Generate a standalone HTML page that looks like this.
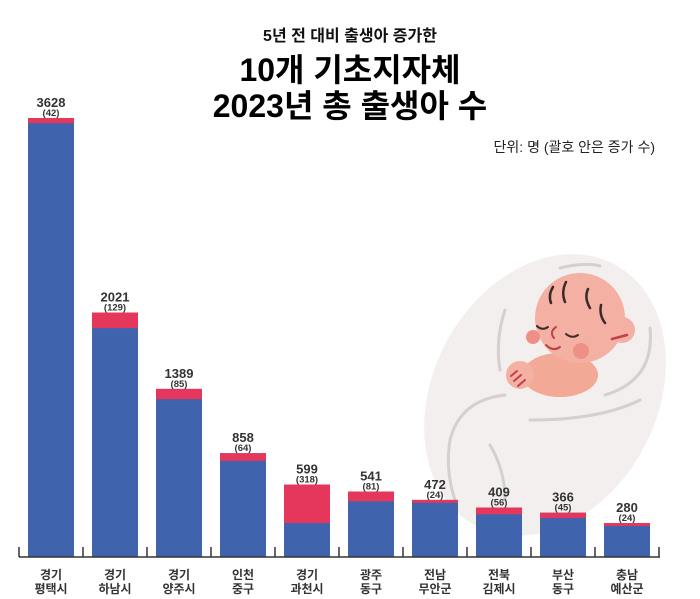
<!DOCTYPE html>
<html><head><meta charset="utf-8"><style>
body{margin:0;background:#fff}
svg{display:block;font-family:"Liberation Sans","Noto Sans CJK KR",sans-serif}
.v{font-size:13px;font-weight:bold;fill:#333;text-anchor:middle}
.p{font-size:9.5px;font-weight:bold;fill:#333;text-anchor:middle}
.c{font-size:12px;font-weight:bold;fill:#333;text-anchor:middle}
</style></head><body>
<svg width="700" height="599" viewBox="0 0 700 599">
<rect width="700" height="599" fill="#fff"/>
<text x="350" y="41" text-anchor="middle" font-size="16" font-weight="bold" fill="#111">5년 전 대비 출생아 증가한</text>
<text x="350" y="81" text-anchor="middle" font-size="32" font-weight="bold" fill="#000">10개 기초지자체</text>
<text x="350" y="117" text-anchor="middle" font-size="32" font-weight="bold" fill="#000">2023년 총 출생아 수</text>
<text x="655" y="152" text-anchor="end" font-size="14" fill="#222">단위: 명 (괄호 안은 증가 수)</text>
<g>
<ellipse cx="545" cy="395" rx="112" ry="148" transform="rotate(28 545 395)" fill="#f3efee"/>
<path d="M505 310 Q495 340 500 370" stroke="#d5d0ce" stroke-width="3" fill="none" stroke-linecap="round"/>
<path d="M560 268 Q585 262 600 266" stroke="#d5d0ce" stroke-width="3" fill="none" stroke-linecap="round"/>
<path d="M650 328 Q655 380 605 395" stroke="#d5d0ce" stroke-width="3" fill="none" stroke-linecap="round"/>
<path d="M640 400 Q600 420 530 420" stroke="#d5d0ce" stroke-width="3" fill="none" stroke-linecap="round"/>
<path d="M505 395 Q460 400 450 440 Q445 470 455 500" stroke="#d5d0ce" stroke-width="3" fill="none" stroke-linecap="round"/>
<path d="M490 445 Q505 470 505 500" stroke="#d5d0ce" stroke-width="3" fill="none" stroke-linecap="round"/>
<ellipse cx="560" cy="375" rx="38" ry="22" fill="#f2a996"/>
<circle cx="580" cy="318" r="45" fill="#f4b0a2"/>
<circle cx="622" cy="330" r="13" fill="#f4b0a2"/>
<circle cx="533" cy="337" r="7" fill="#ee9088"/>
<circle cx="581" cy="351" r="8" fill="#ee9088"/>
<path d="M553 287 Q548 295 551 303 M566 282 Q561 292 565 302 M588 289 Q584 298 590 308 M601 305 Q599 315 605 323" stroke="#3a2a28" stroke-width="2.5" fill="none" stroke-linecap="round"/>
<path d="M537 326 Q542 331 548 327 M566 334 Q572 339 578 335" stroke="#3a2a28" stroke-width="2" fill="none" stroke-linecap="round"/>
<path d="M556 327 Q549 332 554 338 M546 345 Q553 352 560 347" stroke="#c0404a" stroke-width="2" fill="none" stroke-linecap="round"/>
<path d="M612 339 L627 335" stroke="#c0404a" stroke-width="2.5" stroke-linecap="round"/>
<circle cx="520" cy="375" r="14" fill="#f4b0a2"/>
<path d="M511 376 L517 371 M514 381 L521 375 M518 386 L525 380" stroke="#c0404a" stroke-width="2" stroke-linecap="round"/>
</g>
<g fill="#3f63ad">
<rect x="28" y="118" width="46" height="439"/>
<rect x="92" y="312.5" width="46" height="244.5"/>
<rect x="156" y="388.9" width="46" height="168.1"/>
<rect x="220" y="453.2" width="46" height="103.8"/>
<rect x="284" y="484.5" width="46" height="72.5"/>
<rect x="348" y="491.5" width="46" height="65.5"/>
<rect x="412" y="499.9" width="46" height="57.1"/>
<rect x="476" y="507.5" width="46" height="49.5"/>
<rect x="540" y="512.7" width="46" height="44.3"/>
<rect x="604" y="523.1" width="46" height="33.9"/>
</g>
<g fill="#e5365c">
<rect x="28" y="118" width="46" height="5.1"/>
<rect x="92" y="312.5" width="46" height="15.6"/>
<rect x="156" y="388.9" width="46" height="10.3"/>
<rect x="220" y="453.2" width="46" height="7.7"/>
<rect x="284" y="484.5" width="46" height="38.5"/>
<rect x="348" y="491.5" width="46" height="9.8"/>
<rect x="412" y="499.9" width="46" height="2.9"/>
<rect x="476" y="507.5" width="46" height="6.8"/>
<rect x="540" y="512.7" width="46" height="5.4"/>
<rect x="604" y="523.1" width="46" height="2.9"/>
</g>
<text class="v" x="51" y="107">3628</text><text class="p" x="51" y="116">(42)</text>
<text class="v" x="115" y="301.5">2021</text><text class="p" x="115" y="310.5">(129)</text>
<text class="v" x="179" y="378">1389</text><text class="p" x="179" y="387">(85)</text>
<text class="v" x="243" y="442">858</text><text class="p" x="243" y="451">(64)</text>
<text class="v" x="307" y="473.5">599</text><text class="p" x="307" y="482.5">(318)</text>
<text class="v" x="371" y="480.5">541</text><text class="p" x="371" y="489.5">(81)</text>
<text class="v" x="435" y="489">472</text><text class="p" x="435" y="498">(24)</text>
<text class="v" x="499" y="496.5">409</text><text class="p" x="499" y="505.5">(56)</text>
<text class="v" x="563" y="501.5">366</text><text class="p" x="563" y="510.5">(45)</text>
<text class="v" x="627" y="512">280</text><text class="p" x="627" y="521">(24)</text>
<line x1="19" y1="557" x2="660" y2="557" stroke="#333" stroke-width="1.5"/>
<g stroke="#333" stroke-width="1.5">
<line x1="19" y1="547" x2="19" y2="557"/><line x1="83" y1="547" x2="83" y2="557"/><line x1="147" y1="547" x2="147" y2="557"/><line x1="211" y1="547" x2="211" y2="557"/><line x1="275" y1="547" x2="275" y2="557"/><line x1="339" y1="547" x2="339" y2="557"/><line x1="403" y1="547" x2="403" y2="557"/><line x1="467" y1="547" x2="467" y2="557"/><line x1="531" y1="547" x2="531" y2="557"/><line x1="595" y1="547" x2="595" y2="557"/><line x1="659" y1="547" x2="659" y2="557"/>
</g>
<text class="c" x="51" y="579">경기</text><text class="c" x="51" y="593">평택시</text>
<text class="c" x="115" y="579">경기</text><text class="c" x="115" y="593">하남시</text>
<text class="c" x="179" y="579">경기</text><text class="c" x="179" y="593">양주시</text>
<text class="c" x="243" y="579">인천</text><text class="c" x="243" y="593">중구</text>
<text class="c" x="307" y="579">경기</text><text class="c" x="307" y="593">과천시</text>
<text class="c" x="371" y="579">광주</text><text class="c" x="371" y="593">동구</text>
<text class="c" x="435" y="579">전남</text><text class="c" x="435" y="593">무안군</text>
<text class="c" x="499" y="579">전북</text><text class="c" x="499" y="593">김제시</text>
<text class="c" x="563" y="579">부산</text><text class="c" x="563" y="593">동구</text>
<text class="c" x="627" y="579">충남</text><text class="c" x="627" y="593">예산군</text>
</svg>
</body></html>
